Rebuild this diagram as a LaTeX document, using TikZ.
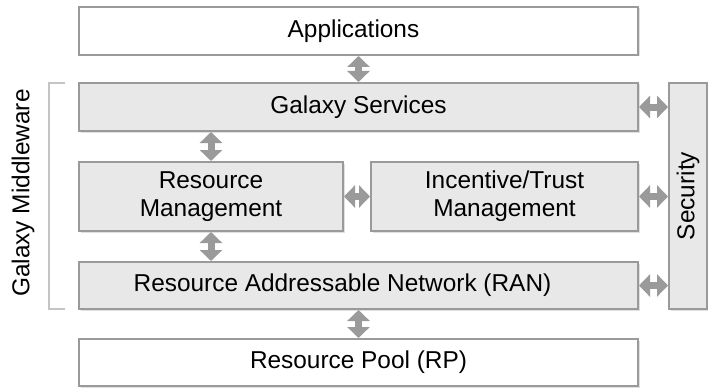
\documentclass[tikz,border=0pt]{standalone}
\usepackage{fontspec}
\setmainfont{Liberation Sans}
\usepackage{tikz}
\usetikzlibrary{arrows.meta,shadows}
\definecolor{boxline}{HTML}{9A9A9A}
\definecolor{boxfill}{HTML}{E8E8E8}
\definecolor{bracketgray}{HTML}{C4C4C4}
\tikzstyle{layer} = [rectangle, draw=boxline, line width=2pt, fill=boxfill, text centered, inner sep=0pt,
  drop shadow={shadow xshift=1.5pt, shadow yshift=-1.5pt, fill=black!12, opacity=1}]
\tikzstyle{outer} = [layer, fill=white]
\tikzstyle{dblarrow} = [draw=boxline, line width=7pt, {Triangle[width=22pt, length=11pt]}-{Triangle[width=22pt, length=11pt]}]

\begin{document}
\begin{tikzpicture}[align=center, x=1pt, y=1pt, font=\fontsize{24.4}{28}\selectfont]
\useasboundingbox (0,0) rectangle (708,389);

\node[outer, minimum width=559pt, minimum height=48pt] (apps) at (358.5, 358) {Applications\hspace*{10pt}};
\node[layer, minimum width=559pt, minimum height=48pt] (services) at (358.5, 282) {Galaxy Services};
\node[layer, minimum width=264pt, minimum height=69pt] (resmgmt) at (211, 192.5) {Resource\\Management};
\node[layer, minimum width=267pt, minimum height=69pt] (trust) at (504.5, 192.5) {Incentive/Trust\\Management};
\node[layer, minimum width=559pt, minimum height=47pt] (ran) at (358.5, 103.5) {Resource Addressable Network (RAN)\hspace*{32pt}};
\node[outer, minimum width=559pt, minimum height=47pt] (pool) at (358.5, 26.5) {Resource Pool (RP)};
\node[layer, minimum width=38pt, minimum height=226pt] (security) at (688, 193) {\rotatebox{90}{Security}};
\node[rotate=90, inner sep=0pt] (middleware) at (23, 196) {Galaxy Middleware};

\draw[bracketgray, line width=1.5pt] (65, 306) -- (49, 306) -- (49, 80) -- (65, 80);

\draw[dblarrow] (apps) -- (services);
\draw[dblarrow] (resmgmt.north) -- (resmgmt.north |- services.south);
\draw[dblarrow] (resmgmt.south) -- (resmgmt.south |- ran.north);
\draw[dblarrow] (ran) -- (pool);
\draw[dblarrow] (resmgmt) -- (trust);
\draw[dblarrow] (services.east) -- (services.east -| security.west);
\draw[dblarrow] (trust.east) -- (trust.east -| security.west);
\draw[dblarrow] (ran.east) -- (ran.east -| security.west);

\end{tikzpicture}
\end{document}
